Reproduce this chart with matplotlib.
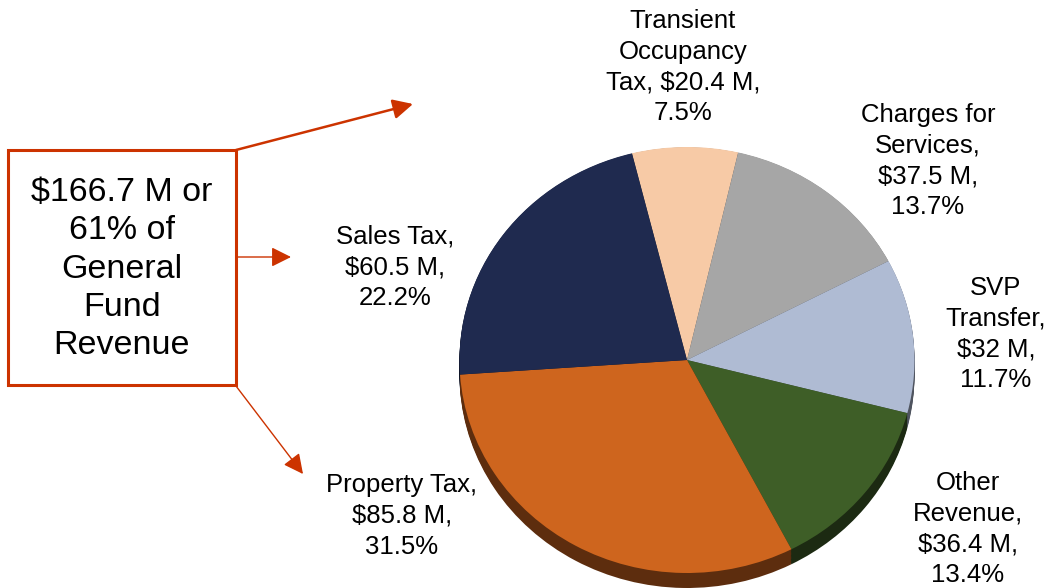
import matplotlib
matplotlib.use("Agg")
import matplotlib.pyplot as plt
import numpy as np
from matplotlib.patches import Rectangle, FancyArrowPatch
from matplotlib.colors import to_rgb

plt.rcParams['font.family'] = ['Liberation Sans', 'DejaVu Sans']

# slices, clockwise from the top
names = ["Transient\nOccupancy\nTax", "Charges for\nServices", "SVP\nTransfer",
         "Other\nRevenue", "Property Tax", "Sales Tax"]
amounts = [20.4, 37.5, 32, 36.4, 85.8, 60.5]          # $ M
pcts = [7.5, 13.7, 11.7, 13.4, 31.5, 22.2]              # % of general fund
seps = [", ", ",\n", ",\n", ",\n", ",\n", ",\n"]
colors = ["#F7CAA6", "#A6A6A6", "#AFBBD3", "#3E5E27", "#CE651E", "#1F2A4F"]

box_text = "$166.7 M or\n61% of\nGeneral\nFund\nRevenue"
accent = "#CC3300"

W, H = 1047, 588
fig = plt.figure(figsize=(W / 100, H / 100), dpi=100, facecolor="w")

# overlay axes in pixel coordinates for text, box and arrows
ax = fig.add_axes([0, 0, 1, 1])
ax.set_xlim(0, W)
ax.set_ylim(H, 0)
ax.axis("off")

# pie axes: top face ellipse rx=227.5, ry=213, centre (687, 360), depth 15 px
left, right, top, bot = 455, 919, 143, 588
pax = fig.add_axes([left / W, (H - bot) / H, (right - left) / W, (bot - top) / H])
pax.set_zorder(0)
ax.set_zorder(1)
ax.patch.set_alpha(0)

depth = 15 / 213
dark = [tuple(c * 0.45 for c in to_rgb(col)) for col in colors]
for off in np.linspace(depth, 0.002, 12):
    pax.pie(pcts, colors=dark, startangle=104, counterclock=False,
            center=(0, -off), radius=1, frame=True,
            wedgeprops=dict(linewidth=0))
pax.pie(pcts, colors=colors, startangle=104, counterclock=False,
        center=(0, 0), radius=1, frame=True,
        wedgeprops=dict(linewidth=0))
pax.set_aspect("auto")
pax.set_xlim(-(right - left) / 455, (right - left) / 455)
pax.set_ylim(-1 - (bot - 573) / 213, 1 + (147 - top) / 213)
pax.axis("off")

# slice labels (block centres in pixels)
label_pos = [(683, 67), (928, 161), (996, 334), (968, 529), (402, 516), (395, 267)]
for nm, amt, p, sp, (x, y) in zip(names, amounts, pcts, seps, label_pos):
    txt = nm + sp + "\\$" + "{:g} M,\n{:g}%".format(amt, p)
    ax.text(x, y, txt, ha="center", va="center", multialignment="center",
            fontsize=18.5, linespacing=1.36, color="black")

# summary box
ax.add_patch(Rectangle((8, 150), 228, 235, fill=False, edgecolor=accent, linewidth=2.2))
ax.text(122, 269, box_text.replace("$", "\\$"), ha="center", va="center",
        multialignment="center", fontsize=24.5, linespacing=1.30)

# arrows from the box
arrows = [((236, 150), (413, 104), 1.8), ((236, 257), (291, 257), 1.0), ((236, 386), (303, 474), 1.0)]
for (x0, y0), (x1, y1), lw in arrows:
    ax.add_patch(FancyArrowPatch((x0, y0), (x1, y1),
                                 arrowstyle="-|>,head_length=1.2,head_width=0.6",
                                 mutation_scale=10, color=accent, linewidth=lw,
                                 shrinkA=0, shrinkB=0))

fig.savefig("out.png", dpi=100, facecolor="w")
